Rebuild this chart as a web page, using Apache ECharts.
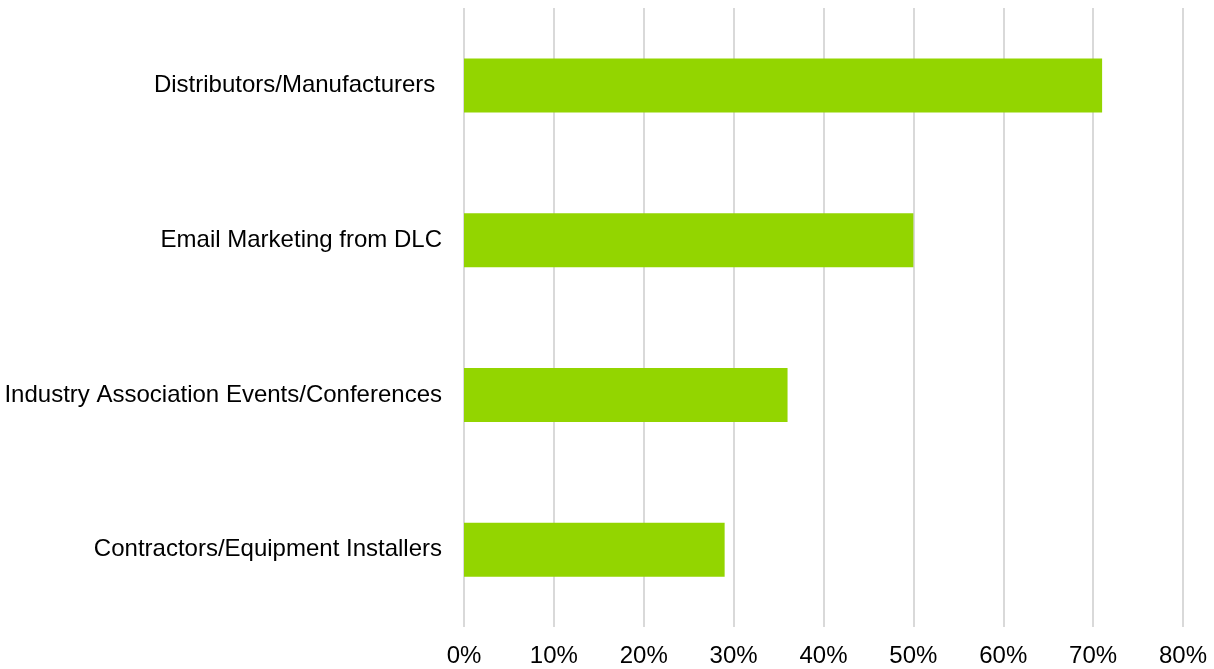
<!DOCTYPE html>
<html>
<head>
<meta charset="utf-8">
<script src="https://cdn.jsdelivr.net/npm/echarts@6/dist/echarts.min.js"></script>
<style>
  html, body { margin: 0; padding: 0; background: #ffffff; }
  #chart { width: 1214px; height: 669px; }
</style>
</head>
<body>
<div id="chart"></div>
<script>
// Channels, listed bottom to top as the category axis draws them
const categories = [
  'Contractors/Equipment Installers',
  'Industry Association Events/Conferences',
  'Email Marketing from DLC',
  'Distributors/Manufacturers '
];
// Share of respondents (%)
const values = [29, 36, 50, 71];
const xTicks = { min: 0, max: 80, step: 10 };

const chart = echarts.init(document.getElementById('chart'));
chart.setOption({
  animation: false,
  backgroundColor: '#ffffff',
  grid: { left: 464, right: 31, top: 8, bottom: 42, containLabel: false },
  xAxis: {
    type: 'value',
    min: xTicks.min,
    max: xTicks.max,
    interval: xTicks.step,
    axisLine: { show: false },
    axisTick: { show: false },
    splitLine: { show: true, lineStyle: { color: '#d9d9d9', width: 2 } },
    axisLabel: {
      formatter: '{value}%',
      color: '#000000',
      fontFamily: 'Liberation Sans, Arial, sans-serif',
      fontSize: 24,
      margin: 17
    }
  },
  yAxis: {
    type: 'category',
    data: categories,
    axisLine: { show: false },
    axisTick: { show: false },
    splitLine: { show: false },
    axisLabel: {
      color: '#000000',
      fontFamily: 'Liberation Sans, Arial, sans-serif',
      fontSize: 24,
      margin: 22
    }
  },
  series: [{
    type: 'bar',
    data: values,
    barWidth: 54,
    itemStyle: { color: '#93d500' }
  }]
});
</script>
</body>
</html>
